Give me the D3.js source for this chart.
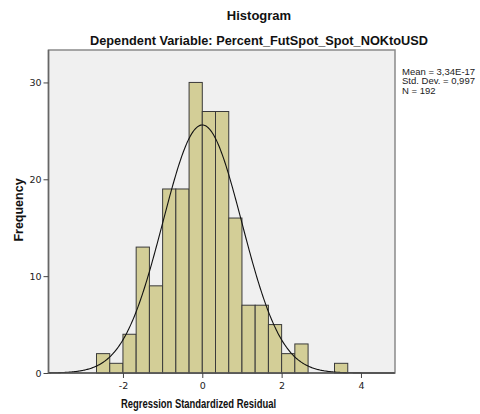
<!DOCTYPE html>
<html>
<head>
<meta charset="utf-8">
<script src="https://cdn.jsdelivr.net/npm/d3@7"></script>
<style>
  html, body { margin: 0; padding: 0; background: #ffffff; }
  svg { display: block; }
  text { font-family: "DejaVu Sans", "Liberation Sans", sans-serif; }
</style>
</head>
<body>
<svg id="chart" width="480" height="414"></svg>
<script>
// ---- data ----
const binStarts = [-2.667, -2.333, -2.0, -1.667, -1.333, -1.0, -0.667, -0.333, 0.0, 0.333, 0.667, 1.0, 1.333, 1.667, 2.0, 2.333, 2.667, 3.0, 3.333];
const binEnds   = [-2.333, -2.0, -1.667, -1.333, -1.0, -0.667, -0.333, 0.0, 0.333, 0.667, 1.0, 1.333, 1.667, 2.0, 2.333, 2.667, 3.0, 3.333, 3.667];
const counts    = [2, 1, 4, 13, 9, 19, 19, 30, 27, 27, 16, 7, 7, 5, 2, 3, 0, 0, 1];
const xTicks = [-2, 0, 2, 4];
const yTicks = [0, 10, 20, 30];
const statLines = ["Mean = 3,34E-17", "Std. Dev. = 0,997", "N = 192"];
const mean = 3.34e-17, sd = 0.997, n = 192, binWidth = 1 / 3;
const title = "Histogram";
const subtitle = "Dependent Variable: Percent_FutSpot_Spot_NOKtoUSD";
const xTitle = "Regression Standardized Residual";
const yTitle = "Frequency";

// ---- layout ----
const svg = d3.select("#chart");
const plot = { left: 48.5, right: 395, top: 50, bottom: 373 };

const x = d3.scaleLinear().domain([-3.877, 4.858]).range([plot.left, plot.right]);
const y = d3.scaleLinear().domain([0, 33.35]).range([plot.bottom, plot.top]);

// plot background
svg.append("rect")
  .attr("x", plot.left).attr("y", plot.top)
  .attr("width", plot.right - plot.left).attr("height", plot.bottom - plot.top)
  .attr("fill", "#f0f0f0")
  .attr("stroke", "#8a8a8a").attr("stroke-width", 1.5);

// bars
const bins = counts.map((c, i) => ({ x0: binStarts[i], x1: binEnds[i], c }));
svg.append("g").selectAll("rect")
  .data(bins.filter(d => d.c > 0))
  .join("rect")
  .attr("x", d => x(d.x0))
  .attr("y", d => y(d.c))
  .attr("width", d => x(d.x1) - x(d.x0))
  .attr("height", d => y(0) - y(d.c))
  .attr("fill", "#d3ce97")
  .attr("stroke", "#3a3a3a")
  .attr("stroke-width", 1);

// normal curve
const curvePts = d3.range(x.domain()[0], x.domain()[1] + 0.001, 0.02).map(v => {
  const z = (v - mean) / sd;
  return [v, n * binWidth * Math.exp(-0.5 * z * z) / (sd * Math.sqrt(2 * Math.PI))];
});
svg.append("path")
  .datum(curvePts)
  .attr("fill", "none")
  .attr("stroke", "#111")
  .attr("stroke-width", 1.1)
  .attr("d", d3.line().x(d => x(d[0])).y(d => y(d[1])));

// axes lines (left and bottom darker)
svg.append("line").attr("x1", plot.left).attr("x2", plot.left).attr("y1", plot.top).attr("y2", plot.bottom)
  .attr("stroke", "#666").attr("stroke-width", 1.5);
svg.append("line").attr("x1", plot.left).attr("x2", plot.right).attr("y1", plot.bottom).attr("y2", plot.bottom)
  .attr("stroke", "#555").attr("stroke-width", 1.5);

// y axis
const yAxis = d3.axisLeft(y).tickValues(yTicks).tickSize(5).tickSizeOuter(0).tickPadding(2);
const gy = svg.append("g").attr("transform", `translate(${plot.left},0)`).call(yAxis);
gy.select(".domain").remove();
gy.selectAll(".tick line").attr("stroke", "#444");
gy.selectAll(".tick text").attr("fill", "#222").style("font-size", "9.5px")
  .style("font-family", "'DejaVu Sans', sans-serif");

// x axis
const xAxis = d3.axisBottom(x).tickValues(xTicks).tickSize(5).tickSizeOuter(0).tickPadding(4)
  .tickFormat(d => d < 0 ? "-" + Math.abs(d) : String(d));
const gx = svg.append("g").attr("transform", `translate(0,${plot.bottom})`).call(xAxis);
gx.select(".domain").remove();
gx.selectAll(".tick line").attr("stroke", "#444");
gx.selectAll(".tick text").attr("fill", "#222").style("font-size", "9.5px")
  .style("font-family", "'DejaVu Sans', sans-serif");

// titles
svg.append("text").text(title)
  .attr("x", 259).attr("y", 20).attr("text-anchor", "middle")
  .style("font-family", "'Liberation Sans', Arial, sans-serif")
  .style("font-weight", "bold").style("font-size", "13px").attr("fill", "#111");
svg.append("text").text(subtitle)
  .attr("x", 259).attr("y", 45).attr("text-anchor", "middle")
  .style("font-family", "'Liberation Sans', Arial, sans-serif")
  .style("font-weight", "bold").style("font-size", "12.75px").attr("fill", "#111");

svg.append("text").text(xTitle)
  .attr("x", 198.5).attr("y", 408).attr("text-anchor", "middle")
  .attr("textLength", 155).attr("lengthAdjust", "spacingAndGlyphs")
  .style("font-family", "'Liberation Sans', Arial, sans-serif")
  .style("font-weight", "bold").style("font-size", "12px").attr("fill", "#111");

svg.append("text").text(yTitle)
  .attr("transform", "translate(23,210) rotate(-90)")
  .attr("text-anchor", "middle")
  .style("font-family", "'Liberation Sans', Arial, sans-serif")
  .style("font-weight", "bold").style("font-size", "12.5px").attr("fill", "#111");

// stats
svg.append("g").selectAll("text")
  .data(statLines)
  .join("text")
  .text(d => d)
  .attr("x", 402)
  .attr("y", (d, i) => 74.5 + i * 9.5)
  .style("font-family", "'Liberation Sans', Arial, sans-serif")
  .style("font-size", "9.5px")
  .attr("fill", "#222");
</script>
</body>
</html>
